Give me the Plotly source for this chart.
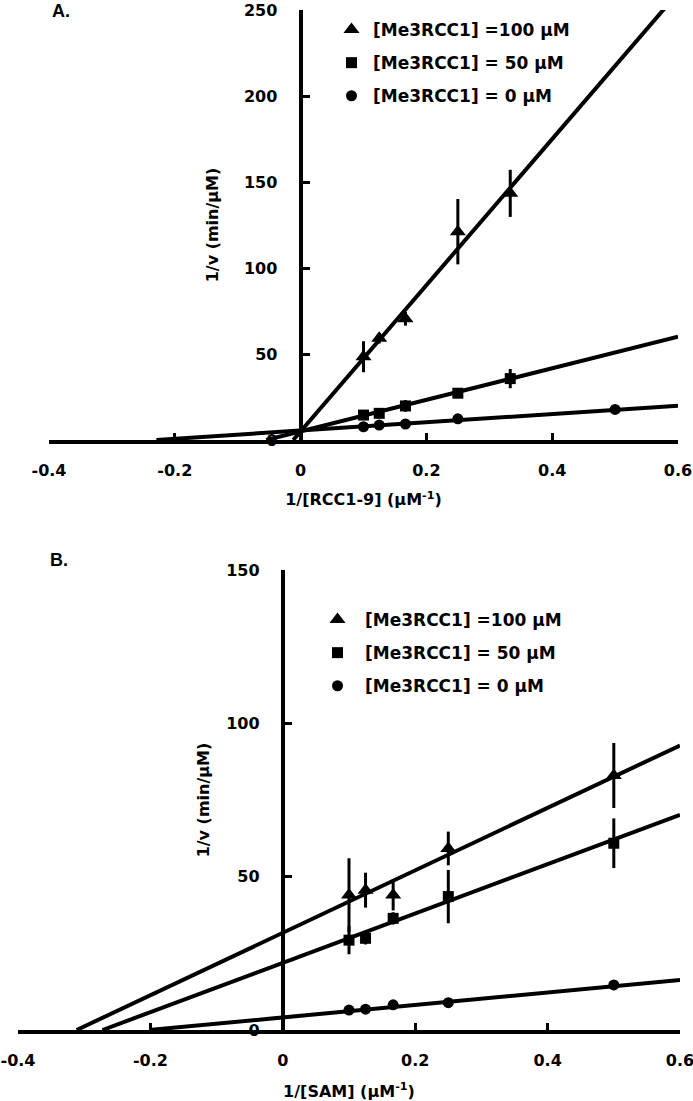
import plotly.graph_objects as go

# ---------------- data ----------------
# Panel A : 1/[RCC1-9]
a_x_tri = [0.1, 0.125, 0.1667, 0.25, 0.3333]
a_y_tri = [48.4, 59.1, 70.5, 121.1, 143.4]
a_e_tri = [9.0, 3.0, 4.0, 19.0, 13.7]

a_x_sq = [0.1, 0.125, 0.1667, 0.25, 0.3333]
a_y_sq = [14.5, 15.5, 19.8, 27.2, 35.7]
a_e_sq = [1.5, 1.5, 3.4, 2.0, 5.6]

a_x_ci = [0.1, 0.125, 0.1667, 0.25, 0.5]
a_y_ci = [7.7, 8.7, 9.3, 12.3, 17.8]
a_e_ci = [0.8, 0.8, 0.8, 0.8, 0.8]

a_slopes = [425.0, 91.7, 24.0]       # 100, 50, 0 uM
a_intercepts = [5.0, 5.0, 5.5]

# Panel B : 1/[SAM]
b_x = [0.1, 0.125, 0.1667, 0.25, 0.5]
b_y_tri = [44.0, 45.6, 44.0, 59.2, 83.0]
b_e_tri = [12.0, 5.7, 5.0, 5.5, 10.6]
b_y_sq = [29.3, 29.9, 36.4, 43.5, 60.9]
b_e_sq = [4.6, 2.0, 2.0, 8.7, 8.1]
b_y_ci = [6.5, 6.8, 8.2, 8.9, 14.7]
b_e_ci = [0.5, 0.5, 0.5, 0.5, 0.5]

b_slopes = [101.8, 80.4, 20.3]
b_intercepts = [31.7, 21.9, 4.1]

series_names = ["[Me3RCC1] =100 µM", "[Me3RCC1] = 50 µM", "[Me3RCC1] = 0 µM"]
symbols = ["triangle-up", "square", "circle"]
sizes = [14, 11, 11]

x_tickvals = [-0.4, -0.2, 0, 0.2, 0.4, 0.6]
x_ticktext = ["-0.4", "-0.2", "0", "0.2", "0.4", "0.6"]
a_y_tickvals = [0, 50, 100, 150, 200, 250]
b_y_tickvals = [0, 50, 100, 150]
x_max = 0.6

FONT = "DejaVu Sans"
W, H = 693, 1101

fig = go.Figure()


def add_panel(xa, ya, leg, xs, ys, es, slopes, intercepts, tag):
    # regression lines
    for m, b in zip(slopes, intercepts):
        x0 = -b / m
        fig.add_trace(go.Scatter(
            x=[x0, x_max], y=[0, m * x_max + b], mode="lines",
            line=dict(color="black", width=4), showlegend=False,
            xaxis=xa, yaxis=ya, hoverinfo="skip"))
    # data points
    for i in range(3):
        fig.add_trace(go.Scatter(
            x=xs[i], y=ys[i], mode="markers", name=series_names[i],
            marker=dict(symbol=symbols[i], size=sizes[i], color="black"),
            error_y=dict(type="data", array=es[i], visible=True,
                         color="black", thickness=3, width=0),
            xaxis=xa, yaxis=ya, legend=leg,
            legendgroup=tag + str(i)))


add_panel("x", "y", "legend",
          [a_x_tri, a_x_sq, a_x_ci], [a_y_tri, a_y_sq, a_y_ci],
          [a_e_tri, a_e_sq, a_e_ci], a_slopes, a_intercepts, "a")
add_panel("x2", "y2", "legend2",
          [b_x, b_x, b_x], [b_y_tri, b_y_sq, b_y_ci],
          [b_e_tri, b_e_sq, b_e_ci], b_slopes, b_intercepts, "b")

# ---------------- layout ----------------
def px_x(p):
    return p / W


def px_y(p):
    return 1 - p / H


tickfont = dict(family=FONT, size=16, color="black", weight="bold")
titlefont = dict(family=FONT, size=16, color="black", weight="bold")
legfont = dict(family=FONT, size=17, color="black", weight="bold")

common_x = dict(showline=True, linewidth=4, linecolor="black", ticks="inside",
                ticklen=7, tickwidth=3, tickcolor="black", showgrid=False,
                zeroline=False, range=[-0.4, 0.6], tickvals=x_tickvals,
                ticktext=x_ticktext, tickfont=tickfont, ticklabelstandoff=13,
                automargin=False, ticklabeloverflow="allow")
common_y = dict(showline=True, linewidth=4, linecolor="black", ticks="inside",
                ticklen=7, tickwidth=3, tickcolor="black", showgrid=False,
                zeroline=False, tickfont=tickfont, anchor="free",
                ticklabelstandoff=18, automargin=False,
                ticklabeloverflow="allow")

# pixel geometry of the two panels
a_x0, a_x1 = 49, 678
b_x0, b_x1 = 18, 680

fig.update_layout(
    width=W, height=H,
    margin=dict(l=0, r=0, t=0, b=0, autoexpand=False),
    paper_bgcolor="white", plot_bgcolor="white",
    showlegend=True,
    xaxis=dict(common_x, domain=[px_x(a_x0), px_x(a_x1)], anchor="y",
               title=dict(text="1/[RCC1-9] (µM<sup>-1</sup>)", font=titlefont,
                          standoff=16)),
    yaxis=dict(common_y, domain=[px_y(440), px_y(10)], range=[0, 250],
               tickvals=a_y_tickvals,
               position=px_x(a_x0 + 0.4 * (a_x1 - a_x0)),
               title=dict(text="1/v (min/µM)", font=titlefont, standoff=20)),
    xaxis2=dict(common_x, domain=[px_x(b_x0), px_x(b_x1)], anchor="y2",
                title=dict(text="1/[SAM] (µM<sup>-1</sup>)", font=titlefont,
                           standoff=19)),
    yaxis2=dict(common_y, domain=[px_y(1030), px_y(570)], range=[0, 150],
                tickvals=b_y_tickvals,
                position=px_x(b_x0 + 0.4 * (b_x1 - b_x0)),
                title=dict(text="1/v (min/µM)", font=titlefont, standoff=12)),
    legend=dict(x=px_x(330), y=px_y(12), xanchor="left", yanchor="top",
                font=legfont, bgcolor="rgba(0,0,0,0)", tracegroupgap=8,
                traceorder="grouped", itemwidth=33),
    legend2=dict(x=px_x(310), y=px_y(602), xanchor="left", yanchor="top",
                 font=legfont, bgcolor="rgba(0,0,0,0)", tracegroupgap=8,
                 traceorder="grouped", itemwidth=45),
    annotations=[
        dict(text="A.", x=px_x(50), y=px_y(11), xref="paper", yref="paper",
             xanchor="left", yanchor="middle", showarrow=False,
             font=dict(family="Liberation Sans", size=18, color="black",
                       weight="bold")),
        dict(text="B.", x=px_x(48), y=px_y(560), xref="paper", yref="paper",
             xanchor="left", yanchor="middle", showarrow=False,
             font=dict(family="Liberation Sans", size=18, color="black",
                       weight="bold")),
    ],
)

fig.write_html("out.html", config={"displayModeBar": False},
               post_script="document.body.style.margin='0';"
                           "document.body.style.padding='0';")
